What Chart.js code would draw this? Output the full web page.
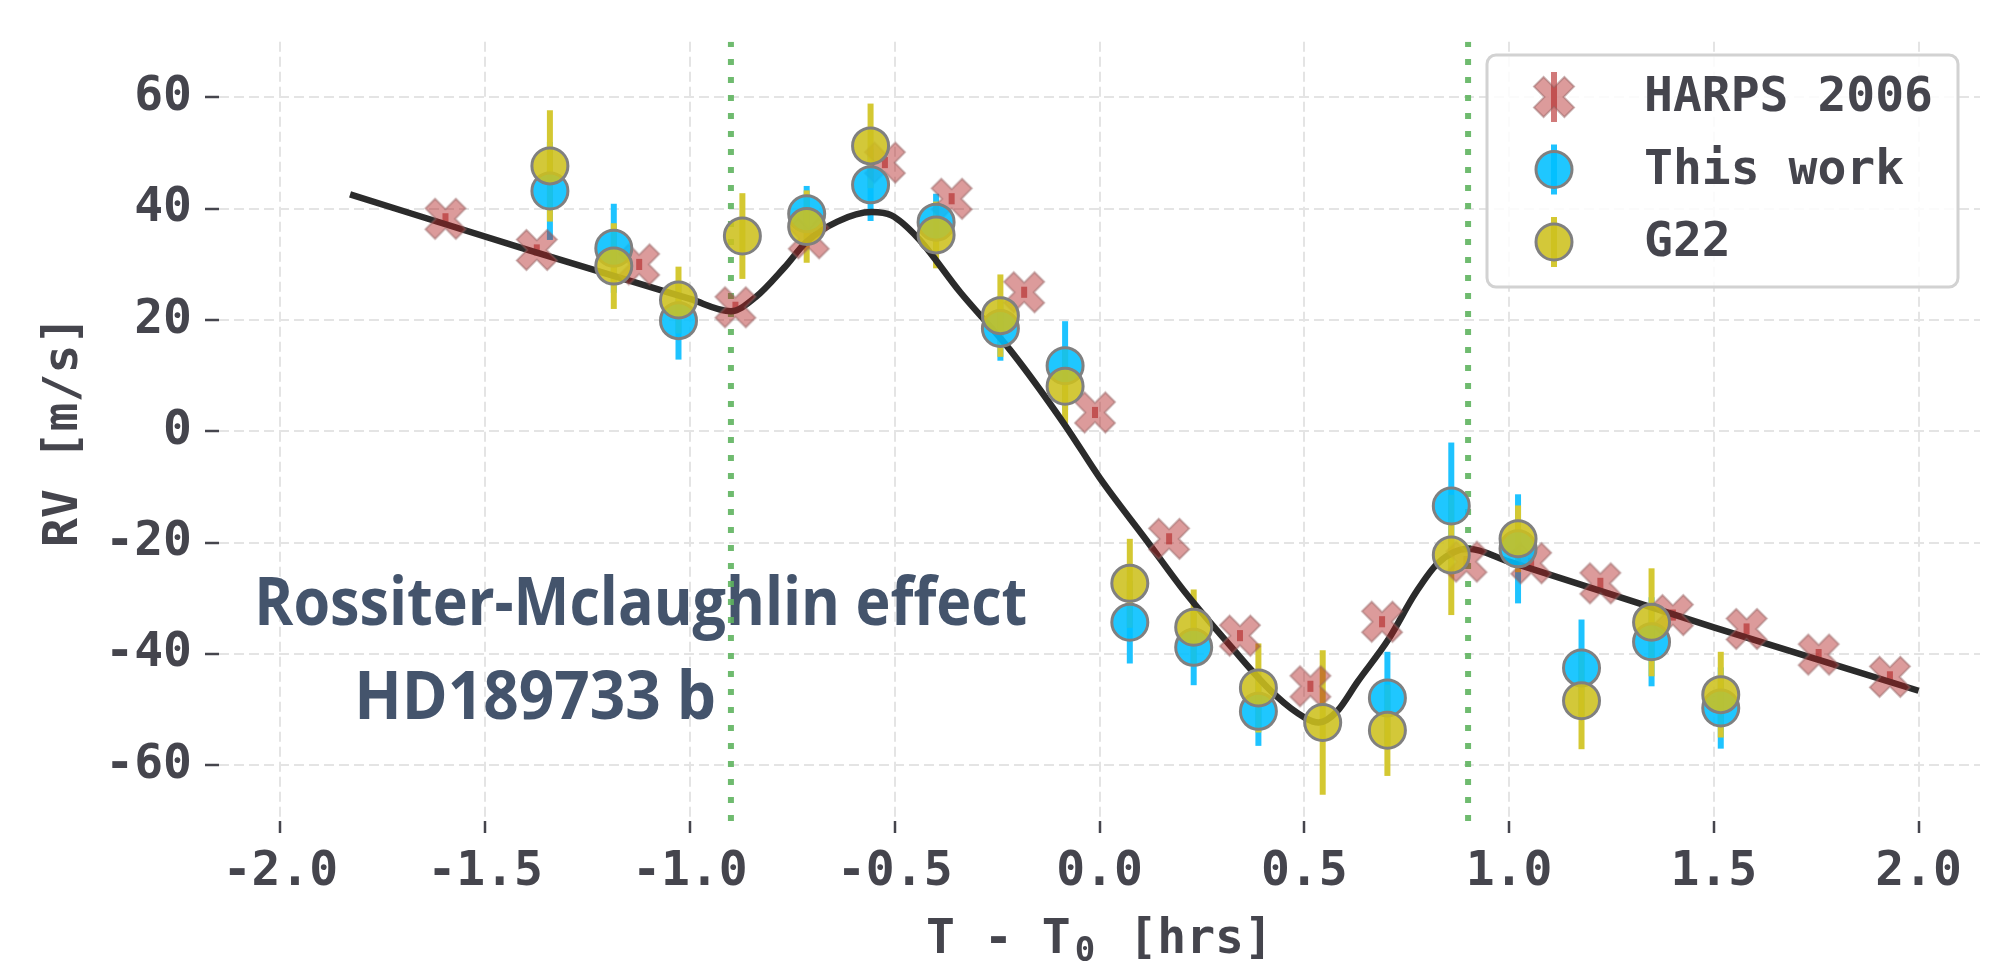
<!DOCTYPE html>
<html>
<head>
<meta charset="utf-8">
<script src="https://cdn.jsdelivr.net/npm/chart.js@4.4.0/dist/chart.umd.min.js"></script>
<style>
  html, body { margin: 0; padding: 0; background: #fff; }
</style>
</head>
<body>
<canvas id="rmChart" width="2001" height="961"></canvas>
<script>
// HARPS 2006 points (time from mid-transit in hrs, RV in m/s)
const harpsT   = [-1.597, -1.374, -1.124, -0.889, -0.710, -0.524, -0.361, -0.184, -0.011, 0.170,
                  0.343, 0.515, 0.690, 0.896, 1.054, 1.223, 1.400, 1.580, 1.756, 1.930];
const harpsRV  = [38.2, 32.6, 30.0, 22.3, 34.7, 48.3, 41.8, 25.0, 3.4, -19.3,
                  -36.7, -45.8, -34.2, -23.4, -23.7, -27.3, -33.0, -35.5, -40.1, -44.1];
const harpsErr = [1, 1, 1, 1, 1, 1, 1, 1, 1, 1, 1, 1, 1, 1, 1, 1, 1, 1, 1, 1];

// This work
const workT   = [-1.342, -1.186, -1.028, -0.715, -0.559, -0.399, -0.242, -0.084, 0.074, 0.230,
                 0.388, 0.703, 0.859, 1.022, 1.177, 1.348, 1.517];
const workRV  = [43.2, 32.9, 19.9, 39.1, 44.3, 37.6, 18.5, 11.8, -34.3, -38.8,
                 -50.3, -47.9, -13.4, -21.1, -42.5, -37.8, -49.7];
const workErr = [8.8, 8.0, 7.0, 5.0, 6.5, 5.1, 5.8, 8.0, 7.4, 6.8,
                 6.2, 8.3, 11.4, 9.8, 8.7, 8.0, 7.3];

// G22
const g22T   = [-1.342, -1.186, -1.028, -0.872, -0.715, -0.559, -0.399, -0.242, -0.084, 0.074,
                0.230, 0.388, 0.545, 0.703, 0.859, 1.022, 1.177, 1.348, 1.517];
const g22RV  = [47.7, 29.7, 23.6, 35.1, 36.8, 51.3, 35.3, 20.8, 8.1, -27.3,
                -35.2, -46.1, -52.3, -53.7, -22.2, -19.3, -48.4, -34.3, -47.3];
const g22Err = [10.0, 7.7, 6.0, 7.7, 6.5, 7.6, 6.0, 7.4, 6.7, 8.0,
                6.8, 8.0, 13.0, 8.2, 10.8, 6.0, 8.7, 9.7, 7.7];

// RM model curve
const modelT  = [-1.83, -1.4, -1.0, -0.9, -0.84, -0.77, -0.715, -0.64, -0.557, -0.508, -0.443,
                 -0.34, -0.218, -0.084, 0.001, 0.115, 0.21, 0.318, 0.428, 0.503, 0.535,
                 0.58, 0.63, 0.706, 0.772, 0.826, 0.9, 1.0, 1.5, 2.0];
const modelRV = [42.6, 32.7, 23.8, 21.6, 24.1, 29.4, 34.1, 37.7, 39.4, 38.8, 34.7,
                 25.0, 14.6, 1.1, -8.4, -19.6, -29.0, -38.4, -47.3, -51.5, -52.3,
                 -50.3, -45.0, -37.3, -29.0, -23.7, -21.1, -23.4, -35.2, -46.6];

// transit contact times
const contactT = [-0.9, 0.9];
const rvLimits = [-70, 70];
const tLimits = [-2.15, 2.15];
const xTickVals = [-2.0, -1.5, -1.0, -0.5, 0.0, 0.5, 1.0, 1.5, 2.0];
const yTickVals = [-60, -40, -20, 0, 20, 40, 60];

const textColor = '#45454d';
const monoFamily = '"DejaVu Sans Mono", monospace';
const monoFont = { family: monoFamily, size: 48, weight: 'bold' };

const pts = (xs, ys) => xs.map((x, i) => ({ x, y: ys[i] }));

// filled "X" marker like matplotlib's
function makeXMarker() {
  const size = 48;
  const c = document.createElement('canvas');
  c.width = c.height = size;
  const g = c.getContext('2d');
  g.translate(size / 2, size / 2);
  g.rotate(Math.PI / 4);
  const L = 21.5, t = 6.8;
  const poly = [[-t,-L],[t,-L],[t,-t],[L,-t],[L,t],[t,t],[t,L],[-t,L],[-t,t],[-L,t],[-L,-t],[-t,-t]];
  g.beginPath();
  poly.forEach(([px, py], i) => i ? g.lineTo(px, py) : g.moveTo(px, py));
  g.closePath();
  g.fillStyle = 'rgba(178,34,34,0.45)';
  g.fill();
  g.strokeStyle = 'rgba(150,100,100,0.5)';
  g.lineWidth = 2;
  g.stroke();
  return c;
}
const xMarker = makeXMarker();

const errorBars = {
  id: 'errorBars',
  beforeDatasetsDraw(chart) {
    const { ctx, scales: { x, y } } = chart;
    chart.data.datasets.forEach(ds => {
      if (!ds.errors) return;
      ctx.save();
      ctx.strokeStyle = ds.errorColor;
      ctx.lineWidth = ds.errorWidth;
      ds.data.forEach((p, j) => {
        const px = x.getPixelForValue(p.x);
        ctx.beginPath();
        ctx.moveTo(px, y.getPixelForValue(p.y - ds.errors[j]));
        ctx.lineTo(px, y.getPixelForValue(p.y + ds.errors[j]));
        ctx.stroke();
      });
      ctx.restore();
    });
  }
};

// the two-line label in the lower left
const labelLines = [
  { text: 'Rossiter-Mclaughlin effect', x: -1.12, y: -34.7, w: 773 },
  { text: 'HD189733 b', x: -1.378, y: -51.7, w: 362 }
];
const rmLabel = {
  id: 'rmLabel',
  beforeDatasetsDraw(chart) {
    const { ctx, scales: { x, y } } = chart;
    ctx.save();
    ctx.fillStyle = '#44546c';
    ctx.font = 'bold 66px "Open Sans", "Noto Sans", sans-serif';
    ctx.textAlign = 'center';
    ctx.textBaseline = 'alphabetic';
    labelLines.forEach(l => {
      const mw = ctx.measureText(l.text).width;
      ctx.save();
      ctx.translate(x.getPixelForValue(l.x), y.getPixelForValue(l.y));
      ctx.scale(l.w / mw, 1);
      ctx.fillText(l.text, 0, 0);
      ctx.restore();
    });
    ctx.restore();
  }
};

// x axis title with a subscript zero
const xTitle = {
  id: 'xTitle',
  afterDraw(chart) {
    const { ctx, chartArea } = chart;
    const cx = (chartArea.left + chartArea.right) / 2;
    const base = 953;
    ctx.save();
    ctx.fillStyle = textColor;
    ctx.textBaseline = 'alphabetic';
    ctx.textAlign = 'left';
    ctx.font = 'bold 48px ' + monoFamily;
    const cell = ctx.measureText('0').width;
    const head = 'T - T', tail = ' [hrs]';
    const total = ctx.measureText(head + '0' + tail).width;
    let x0 = cx - total / 2;
    ctx.fillText(head, x0, base);
    x0 += ctx.measureText(head).width;
    ctx.font = 'bold 34px ' + monoFamily;
    ctx.textAlign = 'center';
    ctx.fillText('0', x0 + cell / 2, base + 8);
    ctx.font = 'bold 48px ' + monoFamily;
    ctx.textAlign = 'left';
    ctx.fillText(tail, x0 + cell, base);
    ctx.restore();
  }
};

const legendBox = {
  id: 'legendBox',
  afterDraw(chart) {
    const ctx = chart.ctx;
    ctx.save();
    ctx.fillStyle = 'rgba(255,255,255,0.85)';
    ctx.strokeStyle = '#d2d2d2';
    ctx.lineWidth = 3;
    ctx.beginPath();
    ctx.roundRect(1487, 55, 471, 232, 9);
    ctx.fill();
    ctx.stroke();
    const rows = chart.data.datasets.filter(d => d.inLegend);
    const mx = 1554, tx = 1644, y0 = 97, dy = 72.5;
    rows.forEach((ds, i) => {
      const yc = y0 + i * dy;
      ctx.strokeStyle = ds.errorColor;
      ctx.lineWidth = ds.errorWidth;
      ctx.beginPath();
      ctx.moveTo(mx, yc - 25);
      ctx.lineTo(mx, yc + 25);
      ctx.stroke();
      if (ds.pointStyle === 'circle') {
        ctx.beginPath();
        ctx.arc(mx, yc, ds.pointRadius, 0, Math.PI * 2);
        ctx.fillStyle = ds.backgroundColor;
        ctx.fill();
        ctx.strokeStyle = ds.borderColor;
        ctx.lineWidth = ds.borderWidth;
        ctx.stroke();
      } else {
        ctx.drawImage(xMarker, mx - xMarker.width / 2, yc - xMarker.height / 2);
      }
      ctx.fillStyle = textColor;
      ctx.font = 'bold 48px ' + monoFamily;
      ctx.textAlign = 'left';
      ctx.textBaseline = 'middle';
      ctx.fillText(ds.label, tx, yc + 2);
    });
    ctx.restore();
  }
};

new Chart(document.getElementById('rmChart'), {
  type: 'scatter',
  data: {
    datasets: [
      ...contactT.map(t => ({
        label: 'contact',
        data: pts([t, t], rvLimits),
        showLine: true,
        borderColor: 'rgba(95,180,95,0.9)',
        borderWidth: 6,
        borderDash: [6, 12],
        pointRadius: 0,
        order: 6
      })),
      {
        label: 'model',
        data: pts(modelT, modelRV),
        showLine: true,
        cubicInterpolationMode: 'monotone',
        borderColor: '#2b2b2b',
        borderWidth: 6.5,
        pointRadius: 0,
        order: 4
      },
      {
        label: 'HARPS 2006',
        data: pts(harpsT, harpsRV),
        errors: harpsErr,
        errorColor: 'rgba(178,34,34,0.6)',
        errorWidth: 6,
        pointStyle: xMarker,
        pointRadius: 20,
        inLegend: true,
        order: 3
      },
      {
        label: 'This work',
        data: pts(workT, workRV),
        errors: workErr,
        errorColor: 'rgb(30,195,255)',
        errorWidth: 6,
        pointStyle: 'circle',
        pointRadius: 18,
        backgroundColor: 'rgba(0,191,255,0.88)',
        borderColor: '#808080',
        borderWidth: 3,
        inLegend: true,
        order: 2
      },
      {
        label: 'G22',
        data: pts(g22T, g22RV),
        errors: g22Err,
        errorColor: 'rgb(212,200,50)',
        errorWidth: 6,
        pointStyle: 'circle',
        pointRadius: 18,
        backgroundColor: 'rgba(205,192,30,0.88)',
        borderColor: '#808080',
        borderWidth: 3,
        inLegend: true,
        order: 1
      }
    ]
  },
  options: {
    responsive: false,
    animation: false,
    events: [],
    layout: { padding: { top: 31, right: 20, left: 0, bottom: 0 } },
    plugins: { legend: { display: false }, tooltip: { enabled: false } },
    scales: {
      x: {
        type: 'linear',
        min: tLimits[0],
        max: tLimits[1],
        afterBuildTicks: s => { s.ticks = xTickVals.map(v => ({ value: v })); },
        ticks: {
          callback: v => v.toFixed(1),
          font: monoFont,
          color: textColor,
          padding: 11
        },
        grid: { color: '#e4e4e4', lineWidth: 2, tickColor: '#45454d', tickWidth: 2.5, tickLength: 12, tickBorderDash: [] },
        border: { display: false, dash: [10, 5] },
        title: { display: false },
        afterFit: s => { s.height = 140; }
      },
      y: {
        min: rvLimits[0],
        max: rvLimits[1],
        afterBuildTicks: s => { s.ticks = yTickVals.map(v => ({ value: v })); },
        ticks: {
          font: monoFont,
          color: textColor,
          padding: 13
        },
        grid: { color: '#e4e4e4', lineWidth: 2, tickColor: '#45454d', tickWidth: 2.5, tickLength: 14, tickBorderDash: [] },
        border: { display: false, dash: [10, 5] },
        title: { display: true, text: 'RV [m/s]', font: monoFont, color: textColor, padding: { top: 36, bottom: 0 } },
        afterFit: s => { s.width = 219; }
      }
    }
  },
  plugins: [errorBars, rmLabel, xTitle, legendBox]
});
</script>
</body>
</html>
